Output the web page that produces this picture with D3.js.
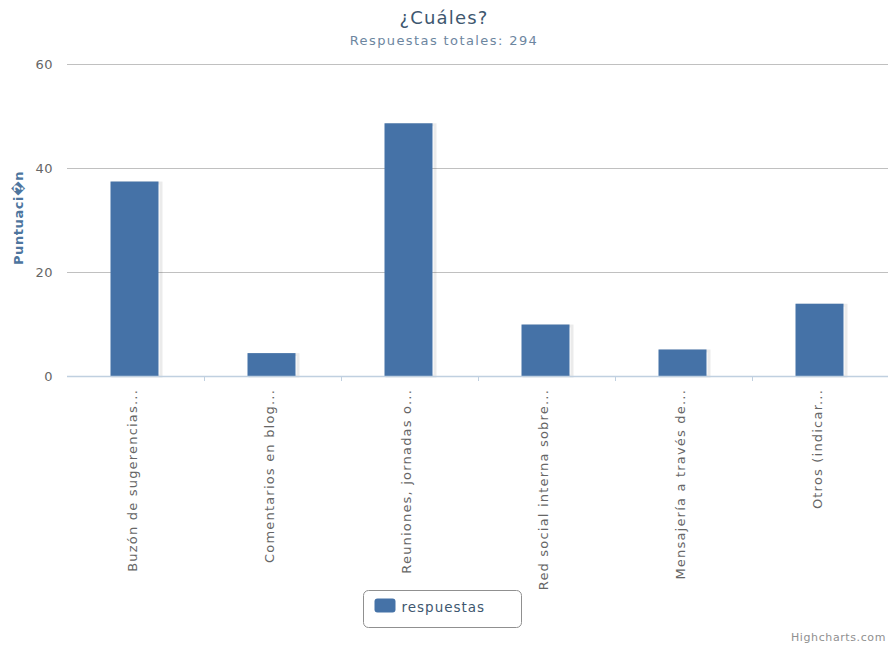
<!DOCTYPE html>
<html>
<head>
<meta charset="utf-8">
<script src="https://cdn.jsdelivr.net/npm/d3@7"></script>
<style>
  html, body { margin: 0; padding: 0; background: #fff; }
  svg { display: block; font-family: "DejaVu Sans", Verdana, sans-serif; }
</style>
</head>
<body>
<svg id="chart" width="888" height="649"></svg>
<script>
// Survey answers (percentage of the 294 responses)
const categories = [
  "Buzón de sugerencias...",
  "Comentarios en blog...",
  "Reuniones, jornadas o...",
  "Red social interna sobre...",
  "Mensajería a través de...",
  "Otros (indicar..."
];
const respuestas = [37.4, 4.4, 48.6, 9.9, 5.1, 13.9];
const yTicks = [0, 20, 40, 60];
const seriesName = "respuestas";
const titleText = "¿Cuáles?";
const subtitleText = "Respuestas totales: 294";
const yTitle = "Puntuaci\uFFFDn";

const svg = d3.select("#chart");
const plot = { left: 67, right: 889, top: 64, bottom: 376 };

const x = d3.scaleBand().domain(categories).range([plot.left, plot.right]).paddingInner(0).paddingOuter(0);
const y = d3.scaleLinear().domain([0, 60]).range([plot.bottom, plot.top]);

// Title and subtitle
svg.append("text").attr("x", 444).attr("y", 24).attr("text-anchor", "middle")
  .attr("font-size", 18).attr("letter-spacing", 1.2).attr("fill", "#3E576F").text(titleText);
svg.append("text").attr("x", 444).attr("y", 45).attr("text-anchor", "middle")
  .attr("font-size", 13).attr("letter-spacing", 1.4).attr("fill", "#6D869F").text(subtitleText);

// Horizontal grid lines
const yAxis = d3.axisLeft(y).tickValues(yTicks).tickSize(-(plot.right - plot.left)).tickPadding(14);
const gy = svg.append("g").attr("transform", `translate(${plot.left},0)`).call(yAxis);
gy.select(".domain").remove();
gy.selectAll(".tick line").attr("stroke", "#C0C0C0").attr("stroke-width", 1);
gy.selectAll(".tick text").attr("font-size", 13).attr("letter-spacing", 0.5).attr("fill", "#666")
  .attr("font-family", "DejaVu Sans, sans-serif");

// Y axis title
svg.append("text")
  .attr("transform", `translate(23,${(plot.top + plot.bottom) / 2 - 2}) rotate(-90)`)
  .attr("text-anchor", "middle").attr("font-size", 13).attr("font-weight", "bold")
  .attr("letter-spacing", 0.6).attr("fill", "#4D759E").text(yTitle);

// Bar shadows
const bw = 48;
svg.append("g").selectAll("rect.shadow").data(respuestas).join("rect")
  .attr("x", (d, i) => x(categories[i]) + x.bandwidth() / 2 - bw / 2 + 1.5)
  .attr("y", d => y(d) + 1.5)
  .attr("width", bw).attr("height", d => y(0) - y(d) - 1.5)
  .attr("fill", "none").attr("stroke", "#000").attr("stroke-opacity", 0.08).attr("stroke-width", 3);

// Bars
svg.append("g").selectAll("rect.bar").data(respuestas).join("rect")
  .attr("class", "bar")
  .attr("x", (d, i) => x(categories[i]) + x.bandwidth() / 2 - bw / 2 - 1)
  .attr("y", d => y(d))
  .attr("width", bw).attr("height", d => y(0) - y(d))
  .attr("fill", "#4572A7");

// X axis line with ticks between categories
const gx = svg.append("g").attr("transform", `translate(0,${plot.bottom})`);
gx.append("line").attr("x1", plot.left).attr("x2", plot.right).attr("y1", 0.5).attr("y2", 0.5)
  .attr("stroke", "#C0D0E0").attr("stroke-width", 1.5);
gx.selectAll("line.tick").data(categories.slice(1)).join("line")
  .attr("class", "tick")
  .attr("x1", d => Math.round(x(d)) + 0.5).attr("x2", d => Math.round(x(d)) + 0.5)
  .attr("y1", 0).attr("y2", 5).attr("stroke", "#C0D0E0");

// Rotated category labels
gx.selectAll("text").data(categories).join("text")
  .attr("transform", d => `translate(${x(d) + x.bandwidth() / 2 + 1},13) rotate(-90)`)
  .attr("text-anchor", "end").attr("font-size", 13).attr("letter-spacing", 1.2).attr("fill", "#666")
  .text(d => d);

// Legend
const lg = svg.append("g").attr("transform", "translate(363.5,590.5)");
lg.append("rect").attr("width", 158).attr("height", 37).attr("rx", 5)
  .attr("fill", "#fff").attr("stroke", "#909090").attr("stroke-width", 1);
lg.append("rect").attr("x", 11).attr("y", 8).attr("width", 21).attr("height", 14).attr("rx", 3)
  .attr("fill", "#4572A7");
lg.append("text").attr("x", 38).attr("y", 21).attr("font-size", 13.5).attr("letter-spacing", 1)
  .attr("fill", "#3E576F").text(seriesName);

// Credits
svg.append("text").attr("x", 886).attr("y", 641).attr("text-anchor", "end")
  .attr("font-size", 11).attr("letter-spacing", 0.6).attr("fill", "#909090").text("Highcharts.com");
</script>
</body>
</html>
